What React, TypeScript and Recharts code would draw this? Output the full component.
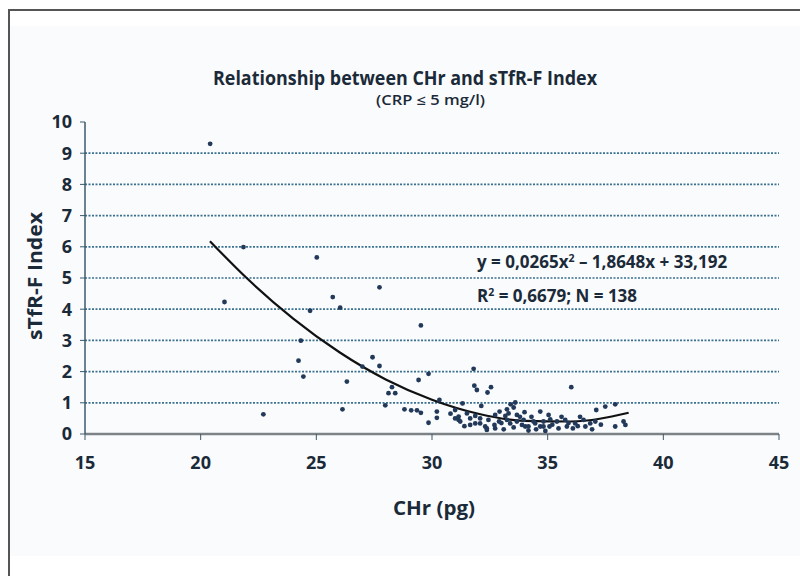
import React from "react";
import { ComposedChart, Scatter, Line, XAxis, YAxis, ReferenceLine } from "recharts";

// CHr (pg) of each patient
const chr = [
  20.41, 21.85, 21.03, 22.71, 24.23, 24.33, 24.44, 24.73, 25.02, 25.71,
  26.03, 26.13, 26.32, 26.99, 27.43, 27.73, 27.73, 27.98, 28.12, 28.27,
  28.41, 28.81, 29.1, 29.35, 29.42, 29.52, 29.52, 29.85, 29.85, 30.21,
  30.21, 30.32, 31.0, 31.0, 31.15, 31.15, 31.22, 31.32, 31.51, 31.65,
  31.65, 31.8, 31.83, 31.87, 31.87, 31.94, 32.08, 32.08, 32.13, 32.3,
  32.37, 32.37, 32.4, 32.44, 32.55, 32.7, 32.73, 32.73, 32.92, 33.17,
  33.24, 33.24, 33.31, 33.38, 33.53, 33.53, 33.6, 33.67, 33.67, 33.89,
  33.96, 34.03, 34.17, 34.17, 34.39, 34.46, 34.68, 34.68, 34.82, 34.82,
  35.04, 35.11, 35.08, 35.4, 35.47, 35.76, 35.83, 36.02, 36.09, 36.19,
  36.55, 36.4, 36.63, 36.84, 36.92, 37.06, 37.1, 37.49, 37.3, 37.92,
  37.92, 38.28, 38.36, 33.0, 33.8, 34.3, 34.5, 35.2, 35.6, 34.0,
  33.4, 32.9, 31.4, 30.8, 33.1, 35.9, 34.9, 36.3
];

// sTfR-F Index for the same patients
const stfr = [
  9.3, 5.99, 4.23, 0.63, 2.35, 2.99, 1.84, 3.95, 5.66, 4.39,
  4.05, 0.79, 1.68, 2.16, 2.46, 2.18, 4.7, 0.92, 1.31, 1.5,
  1.31, 0.79, 0.76, 0.76, 1.73, 3.48, 0.68, 1.93, 0.36, 0.72,
  0.52, 1.09, 0.77, 0.5, 0.45, 0.56, 0.4, 0.98, 0.66, 0.29,
  0.5, 2.09, 1.55, 0.58, 0.34, 1.41, 0.34, 0.5, 0.9, 0.24,
  0.18, 0.13, 1.33, 0.45, 1.5, 0.29, 0.18, 0.61, 0.72, 0.58,
  0.79, 0.45, 0.66, 0.34, 0.85, 0.21, 1.01, 0.61, 0.4, 0.29,
  0.45, 0.24, 0.24, 0.11, 0.4, 0.34, 0.72, 0.24, 0.4, 0.24,
  0.61, 0.47, 0.24, 0.4, 0.18, 0.45, 0.24, 1.5, 0.18, 0.34,
  0.45, 0.55, 0.24, 0.34, 0.15, 0.4, 0.77, 0.88, 0.3, 0.95,
  0.24, 0.4, 0.29, 0.35, 0.55, 0.55, 0.15, 0.3, 0.55, 0.7,
  0.95, 0.4, 0.25, 0.65, 0.15, 0.35, 0.1, 0.25
];

// polynomial trend line
const trendX = [20.4, 22, 24, 26, 28, 30, 32, 34, 36, 38.5];
const trendY = [6.18, 4.99, 3.7, 2.62, 1.75, 1.1, 0.65, 0.42, 0.4, 0.68];

const xTicks = [15, 20, 25, 30, 35, 40, 45];
const yTicks = [0, 1, 2, 3, 4, 5, 6, 7, 8, 9, 10];
const gridLines = [1, 2, 3, 4, 5, 6, 7, 8, 9];

const points = chr.map((x, i) => ({ x, y: stfr[i] }));
const trend = trendX.map((x, i) => ({ x, y: trendY[i] }));

const ink = "#1b2a38";
const font = "'Open Sans', sans-serif";
const tickStyle = { fill: ink, fontSize: 18, fontWeight: 700, fontFamily: font };

const Dot = (props: any) => <circle cx={props.cx} cy={props.cy} r={2.4} fill="#22395a" />;

export default function App() {
  return (
    <div style={{ position: "absolute", left: 0, top: 0, width: 800, height: 576, background: "#fff", overflow: "hidden" }}>
      <div style={{ position: "absolute", left: 8, top: 9, width: 800, height: 600, borderTop: "2px solid #555", borderLeft: "2px solid #555" }} />
      <div style={{ position: "absolute", left: 10, top: 26, width: 790, height: 530, background: "#fafbfd" }} />
      <div style={{ position: "absolute", left: 0, top: 0 }}>
        <ComposedChart width={800} height={576} margin={{ top: 122, right: 21, bottom: 0, left: 0 }}>
          <XAxis
            type="number"
            dataKey="x"
            domain={[15, 45]}
            ticks={xTicks}
            height={142}
            axisLine={{ stroke: "#7d8287", strokeWidth: 2.5 }}
            tickLine={{ stroke: "#3d5a6c" }}
            tickSize={6}
            tickMargin={16}
            tick={tickStyle}
          />
          <YAxis
            type="number"
            domain={[0, 10]}
            ticks={yTicks}
            width={85}
            axisLine={{ stroke: "#3d5a6c", strokeWidth: 1.5 }}
            tickLine={{ stroke: "#3d5a6c" }}
            tickSize={5}
            tickMargin={8}
            tick={tickStyle}
          />
          {gridLines.map((v) => (
            <ReferenceLine key={v} y={v} stroke="#3a7090" strokeWidth={1.7} strokeDasharray="2 1.5" />
          ))}
          <Scatter data={points} dataKey="y" shape={Dot} isAnimationActive={false} />
          <Line data={trend} dataKey="y" type="monotone" stroke="#111" strokeWidth={2.2} dot={false} activeDot={false} isAnimationActive={false} />
        </ComposedChart>
      </div>
      <svg width={800} height={576} style={{ position: "absolute", left: 0, top: 0, pointerEvents: "none" }}>
        <text x={213} y={85} fontFamily={font} fontWeight={700} fontSize={19.5} fill={ink} textLength={384} lengthAdjust="spacingAndGlyphs">
          Relationship between CHr and sTfR-F Index
        </text>
        <text x={376} y={105} fontFamily={font} fontWeight={600} fontSize={13.5} fill={ink} textLength={109} lengthAdjust="spacingAndGlyphs">
          (CRP ≤ 5 mg/l)
        </text>
        <text x={477} y={268} fontFamily={font} fontWeight={700} fontSize={17} fill={ink}>
          y = 0,0265x<tspan fontSize={10.5} dy={-6}>2</tspan>
          <tspan dy={6}> – 1,8648x + 33,192</tspan>
        </text>
        <text x={477} y={302} fontFamily={font} fontWeight={700} fontSize={17} fill={ink}>
          R<tspan fontSize={10.5} dy={-6}>2</tspan>
          <tspan dy={6}> = 0,6679; N = 138</tspan>
        </text>
        <text
          x={42}
          y={276}
          transform="rotate(-90 42 276)"
          textAnchor="middle"
          fontFamily={font}
          fontWeight={700}
          fontSize={20}
          fill={ink}
          textLength={128}
          lengthAdjust="spacingAndGlyphs"
        >
          sTfR-F Index
        </text>
        <text x={393} y={515} fontFamily={font} fontWeight={700} fontSize={20} fill={ink} textLength={82} lengthAdjust="spacingAndGlyphs">
          CHr (pg)
        </text>
      </svg>
    </div>
  );
}
